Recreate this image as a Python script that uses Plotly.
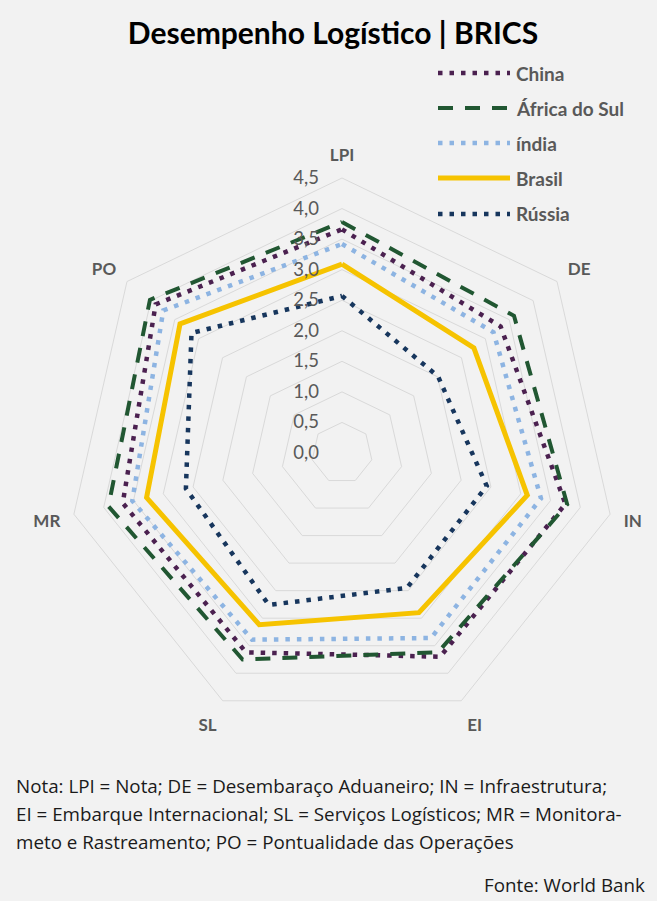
import plotly.graph_objects as go

# ---- data ----
categories = ["LPI", "DE", "IN", "EI", "SL", "MR", "PO"]
series_names = ["China", "África do Sul", "índia", "Brasil", "Rússia"]
china = [3.66, 3.32, 3.75, 3.70, 3.62, 3.68, 3.90]
africa_sul = [3.78, 3.60, 3.78, 3.62, 3.75, 3.92, 4.02]
india = [3.42, 3.17, 3.34, 3.36, 3.39, 3.52, 3.74]
brasil = [3.09, 2.76, 3.11, 2.90, 3.12, 3.28, 3.39]
russia = [2.57, 2.01, 2.43, 2.45, 2.76, 2.62, 3.15]
radial_ticks = [0.0, 0.5, 1.0, 1.5, 2.0, 2.5, 3.0, 3.5, 4.0, 4.5]
title_text = "Desempenho Logístico | BRICS"
note_lines = [
    "Nota: LPI = Nota; DE = Desembaraço Aduaneiro; IN = Infraestrutura;",
    "EI = Embarque Internacional; SL = Serviços Logísticos; MR = Monitora-",
    "meto e Rastreamento; PO = Pontualidade das Operações",
]
source_text = "Fonte: World Bank"

# ---- styles ----
W, H = 657, 901
FONT = "Lato"
NOTE_FONT = "Open Sans"
BG = "#F2F2F2"
GRID = "#D9D9D9"
TXT = "#595959"
styles = [
    dict(color="#4B2150", width=4.5, dash="4.5px,7px"),
    dict(color="#215732", width=4, dash="15px,12px"),
    dict(color="#8DB4E2", width=4.5, dash="4.5px,7px"),
    dict(color="#F6C300", width=5, dash="solid"),
    dict(color="#17365D", width=4.5, dash="4.5px,7px"),
]
values = [china, africa_sul, india, brasil, russia]

fig = go.Figure()
for name, vals, st in zip(series_names, values, styles):
    fig.add_trace(go.Scatterpolar(
        r=vals + vals[:1],
        theta=categories + categories[:1],
        mode="lines",
        name=name,
        line=st,
        showlegend=False,
        hoverinfo="skip",
    ))

# polar geometry (px): center (342,453), radius 275
cx, cy, R = 342, 453, 275
fig.update_layout(
    width=W, height=H,
    margin=dict(l=0, r=0, t=0, b=0),
    paper_bgcolor=BG,
    plot_bgcolor=BG,
    separators=",.",
    showlegend=False,
    font=dict(family=FONT, color=TXT),
    polar=dict(
        bgcolor=BG,
        gridshape="linear",
        domain=dict(x=[(cx - R) / W, (cx + R) / W],
                    y=[(H - cy - R) / H, (H - cy + R) / H]),
        angularaxis=dict(
            rotation=90, direction="clockwise",
            showgrid=False, showline=True, linecolor=GRID, linewidth=1,
            ticks="outside", ticklen=10, tickcolor="rgba(0,0,0,0)",
            tickfont=dict(family=FONT, size=17, color=TXT, weight="bold"),
        ),
        radialaxis=dict(
            range=[0, 4.5], tickvals=radial_ticks, tickformat=".1f",
            angle=90, side="counterclockwise", tickangle=90,
            showline=False, ticks="outside", ticklen=16, tickcolor="rgba(0,0,0,0)",
            gridcolor=GRID, gridwidth=1,
            tickfont=dict(family=FONT, size=18.5, color=TXT),
        ),
    ),
    title=dict(
        text="<b>" + title_text + "</b>",
        x=333 / W, xanchor="center",
        y=1 - 33 / H, yanchor="middle",
        font=dict(family=FONT, size=30, color="#000000"),
    ),
)

# custom legend
leg_y = [73, 108, 143, 178, 214]
for name, st, ly in zip(series_names, styles, leg_y):
    fig.add_shape(type="line", xref="paper", yref="paper",
                  x0=438 / W, x1=510 / W, y0=1 - ly / H, y1=1 - ly / H,
                  line=st)
    fig.add_annotation(xref="paper", yref="paper", x=514 / W, y=1 - ly / H,
                       xanchor="left", yanchor="middle", showarrow=False,
                       text="<b>" + name + "</b>",
                       font=dict(family=FONT, size=19, color=TXT))

note_y = [786, 814, 842]
for line, ny in zip(note_lines, note_y):
    fig.add_annotation(xref="paper", yref="paper", x=14 / W, y=1 - ny / H,
                       xanchor="left", yanchor="middle", showarrow=False,
                       text=line, font=dict(family=NOTE_FONT, size=18.8, color="#1a1a1a"))
fig.add_annotation(xref="paper", yref="paper", x=647 / W, y=1 - 885 / H,
                   xanchor="right", yanchor="middle", showarrow=False,
                   text=source_text, font=dict(family=NOTE_FONT, size=18.8, color="#1a1a1a"))

fig.write_html("out.html")
